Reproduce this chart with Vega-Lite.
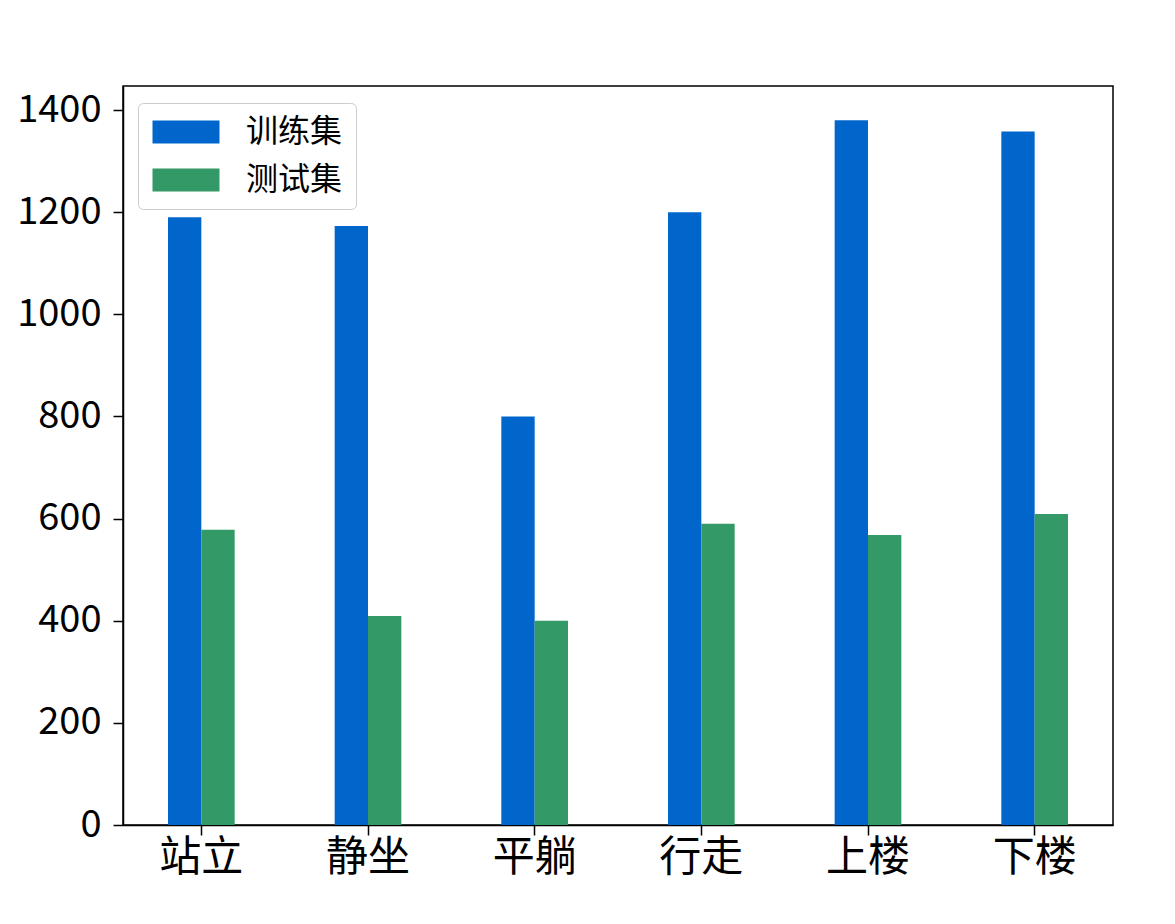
{
  "$schema": "https://vega.github.io/schema/vega-lite/v6.json",
  "autosize": "none",
  "width": 990,
  "height": 739,
  "padding": {"left": 123, "top": 86, "right": 62, "bottom": 99},
  "background": "white",
  "config": {
    "view": {"stroke": "black", "strokeWidth": 1.5},
    "font": "Noto Sans CJK SC"
  },
  "data": {
    "values": [
      {"活动": "站立", "数据集": "训练集", "数量": 1190},
      {"活动": "站立", "数据集": "测试集", "数量": 578},
      {"活动": "静坐", "数据集": "训练集", "数量": 1173},
      {"活动": "静坐", "数据集": "测试集", "数量": 409},
      {"活动": "平躺", "数据集": "训练集", "数量": 800},
      {"活动": "平躺", "数据集": "测试集", "数量": 400},
      {"活动": "行走", "数据集": "训练集", "数量": 1200},
      {"活动": "行走", "数据集": "测试集", "数量": 590},
      {"活动": "上楼", "数据集": "训练集", "数量": 1380},
      {"活动": "上楼", "数据集": "测试集", "数量": 568},
      {"活动": "下楼", "数据集": "训练集", "数量": 1358},
      {"活动": "下楼", "数据集": "测试集", "数量": 609}
    ]
  },
  "mark": {"type": "bar"},
  "encoding": {
    "x": {
      "field": "活动",
      "type": "nominal",
      "sort": ["站立", "静坐", "平躺", "行走", "上楼", "下楼"],
      "scale": {"paddingInner": 0.6, "paddingOuter": 0.27},
      "axis": {
        "title": null,
        "labelAngle": 0,
        "labelFont": "Noto Sans CJK SC",
        "labelFontSize": 42,
        "labelColor": "black",
        "labelPadding": 2,
        "tickSize": 10,
        "tickColor": "black",
        "tickWidth": 1.5,
        "domainColor": "black",
        "domainWidth": 1.5,
        "bandPosition": 0.5
      }
    },
    "xOffset": {
      "field": "数据集",
      "type": "nominal",
      "sort": ["训练集", "测试集"],
      "scale": {"paddingInner": 0, "paddingOuter": 0}
    },
    "y": {
      "field": "数量",
      "type": "quantitative",
      "scale": {"domain": [0, 1447], "nice": false, "zero": true},
      "axis": {
        "title": null,
        "values": [0, 200, 400, 600, 800, 1000, 1200, 1400],
        "format": "d",
        "grid": false,
        "labelFont": "Noto Sans CJK SC",
        "labelFontSize": 38,
        "labelColor": "black",
        "labelPadding": 12,
        "tickSize": 10,
        "tickColor": "black",
        "tickWidth": 1.5,
        "domainColor": "black",
        "domainWidth": 1.5
      }
    },
    "color": {
      "field": "数据集",
      "type": "nominal",
      "sort": ["训练集", "测试集"],
      "scale": {"domain": ["训练集", "测试集"], "range": ["#0066cc", "#339966"]},
      "legend": {
        "title": null,
        "orient": "none",
        "legendX": 15,
        "legendY": 17,
        "fillColor": "white",
        "strokeColor": "#cccccc",
        "cornerRadius": 5,
        "padding": 13,
        "symbolType": "M-2.913,-1H2.913V1H-2.913Z",
        "symbolSize": 529,
        "symbolOffset": 19,
        "symbolStrokeWidth": 0,
        "labelFont": "Noto Sans CJK SC",
        "labelFontSize": 32,
        "labelColor": "black",
        "labelOffset": 44,
        "rowPadding": 16
      }
    }
  }
}
